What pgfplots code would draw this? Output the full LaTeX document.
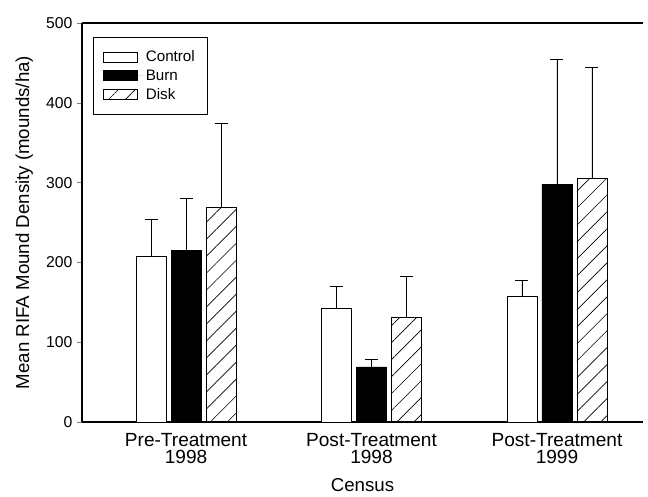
\documentclass[border=0pt]{standalone}
\usepackage{pgfplots}
\pgfplotsset{compat=1.18}
\usepackage{pgfplotstable}
\usepackage{fontspec}
\setmainfont{Liberation Sans}
\usetikzlibrary{patterns.meta}

% group index, mean, upper error
\pgfplotstableread{
x y e
0 207 47
1 142 28
2 158 19
}\control
\pgfplotstableread{
x y e
0 215 65
1 69 9
2 298 157
}\burn
\pgfplotstableread{
x y e
0 269 105
1 131 51
2 305 139
}\disk

\begin{document}
\begin{tikzpicture}
\begin{axis}[
    scale only axis,
    width=420.75pt, height=299.25pt,
    ybar=3.75pt, bar width=22.5pt,
    axis x line*=box, axis y line*=left,
    xmin=-0.561, xmax=2.464,
    ymin=0, ymax=500,
    ytick={0,100,...,500},
    xtick=data,
    xticklabels={{Pre-Treatment\\1998},{Post-Treatment\\1998},{Post-Treatment\\1999}},
    x tick label style={align=center, font=\fontsize{14.3}{13}\selectfont, yshift=-1pt},
    xtick style={draw=none},
    tick align=outside, major tick length=3.75pt,
    y tick label style={font=\fontsize{11.8}{13}\selectfont},
    /pgf/number format/assume math mode=true,
    ylabel={Mean RIFA Mound Density (mounds/ha)},
    xlabel={Census},
    label style={font=\fontsize{14}{14}\selectfont},
    ylabel style={yshift=3pt},
    xlabel style={yshift=-4.5pt},
    axis line style={line width=0.8pt},
    legend style={at={(0.02,0.965)}, anchor=north west, draw=black,
        font=\fontsize{11.4}{13.7}\selectfont, inner xsep=7pt, inner ysep=8pt,
        row sep=0.5pt},
    legend cell align=left,
    legend image code/.code={\draw[#1, line width=0.5pt] (0pt,-3.75pt) rectangle (26pt,3.75pt);
        \path[draw=none] (0pt,0pt) -- (30pt,0pt);},
    error bars/y dir=plus, error bars/y explicit,
    error bars/error mark options={rotate=90, mark size=4.9pt, line width=0.6pt},
    error bars/error bar style={line width=0.6pt, black},
]
\addplot[draw=black, fill=white, line width=0.6pt] table[x=x, y=y, y error=e]{\control};
\addplot[draw=black, fill=black, line width=0.6pt] table[x=x, y=y, y error=e]{\burn};
\addplot[draw=black, line width=0.6pt, pattern={Lines[angle=45, distance=9pt, line width=0.5pt]}] table[x=x, y=y, y error=e]{\disk};
\legend{Control, Burn, Disk}
\end{axis}
\path (current axis.south west) ++(-61.5pt,-54.75pt) rectangle ++(486pt,371.25pt);
\end{tikzpicture}
\end{document}
